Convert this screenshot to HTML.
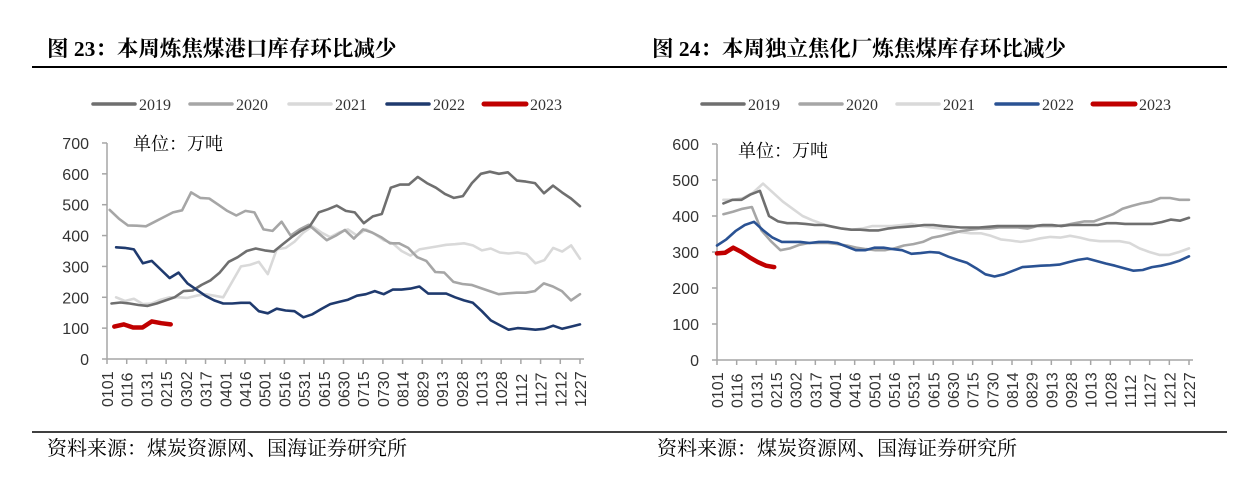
<!DOCTYPE html>
<html><head><meta charset="utf-8">
<style>
body{margin:0;background:#fff;width:1250px;height:488px;overflow:hidden;}
svg{display:block}
</style></head>
<body>
<svg id="s" width="1250" height="488" xmlns="http://www.w3.org/2000/svg" font-family="Liberation Sans, Arial, sans-serif">
<g font-family="Liberation Serif, Noto Serif CJK SC, serif" font-weight="bold" font-size="21.5" fill="#000">
<text x="47" y="56">图 23：本周炼焦煤港口库存环比减少</text>
<text x="652" y="56">图 24：本周独立焦化厂炼焦煤库存环比减少</text>
</g>
<line x1="32" y1="67" x2="625" y2="67" stroke="#000" stroke-width="2"/>
<line x1="625" y1="67" x2="1227" y2="67" stroke="#000" stroke-width="2"/>
<line x1="32" y1="432" x2="625" y2="432" stroke="#000" stroke-width="1.5"/>
<line x1="625" y1="432" x2="1227" y2="432" stroke="#000" stroke-width="1.5"/>
<g font-family="Liberation Serif, Noto Serif CJK SC, serif" font-size="20" fill="#000">
<text x="47" y="455">资料来源：煤炭资源网、国海证券研究所</text>
<text x="657" y="455">资料来源：煤炭资源网、国海证券研究所</text>
<text x="133" y="150" font-size="18">单位：万吨</text>
<text x="738" y="157" font-size="18">单位：万吨</text>
</g>
<g id="c1"></g><g id="c2"></g>
</svg>
<script>
var NS="http://www.w3.org/2000/svg";
function el(p,n,a,t){var e=document.createElementNS(NS,n);for(var k in a)e.setAttribute(k,a[k]);if(t!=null)e.textContent=t;p.appendChild(e);return e;}
var labels=["0101","0116","0131","0215","0302","0317","0401","0416","0501","0516","0531","0615","0630","0715","0730","0814","0829","0913","0928","1013","1028","1112","1127","1212","1227"];
function chart(g,o){
 var X=function(w){return o.x0+(o.x1-o.x0)*w/52;};
 var Y=function(v){return o.y0-v*o.py;};
 var names=["2019","2020","2021","2022","2023"];
 for(var i=0;i<5;i++){var L=o.leg[i];
  el(g,"line",{x1:L,y1:104,x2:L+42,y2:104,stroke:o.cols[i],"stroke-width":i==4?5:3.5,"stroke-linecap":"round"});
  el(g,"text",{x:L+46,y:110,"font-family":"Liberation Serif, serif","font-size":"16",fill:"#333"},names[i]);}
 el(g,"line",{x1:o.x0,y1:Y(o.max),x2:o.x0,y2:o.y0,stroke:"#a6a6a6","stroke-width":1.5});
 el(g,"line",{x1:o.x0,y1:o.y0,x2:o.x1+4,y2:o.y0,stroke:"#a6a6a6","stroke-width":1.5});
 for(var v=0;v<=o.max;v+=100){
  el(g,"line",{x1:o.x0-5,y1:Y(v),x2:o.x0,y2:Y(v),stroke:"#a6a6a6","stroke-width":1.5});
  el(g,"text",{x:o.x0-18,y:Y(v)+6,"text-anchor":"end","font-size":"16",fill:"#333"},String(v));}
 for(var j=0;j<25;j++){var x=o.x0+(o.x1-o.x0)*j/24;
  el(g,"line",{x1:x,y1:o.y0,x2:x,y2:o.y0+5,stroke:"#a6a6a6","stroke-width":1.5});
  el(g,"text",{transform:"translate("+(x+6)+","+(o.y0+48)+") rotate(-90)","font-size":"16",fill:"#333"},labels[j]);}
 for(var i=0;i<o.series.length;i++){var s=o.series[i],d=s.d,n=d.length,pts=[];
  var end=s.end==null?52:s.end;
  for(var k=0;k<n;k++){pts.push(X(s.st+k*(end-s.st)/(n-1)).toFixed(1)+","+Y(d[k]).toFixed(1));}
  el(g,"polyline",{points:pts.join(" "),fill:"none",stroke:o.cols[s.c],"stroke-width":s.c==4?4.5:2.6,"stroke-linejoin":"round","stroke-linecap":"round"});}
}
var L19=[180,183,180,175,172,180,190,200,220,222,240,255,280,315,330,350,358,352,348,372,395,415,430,475,485,497,480,475,440,462,470,555,565,565,590,570,555,535,522,528,570,600,607,600,605,578,575,570,537,562,540,520,495];
var L20=[483,455,433,432,430,445,460,475,482,540,522,520,500,480,465,480,475,420,415,445,400,420,435,410,385,400,418,390,420,410,395,375,375,360,330,318,282,280,250,243,240,230,220,210,213,215,215,220,245,235,220,190,210];
var L21=[200,188,195,178,180,192,200,200,198,205,210,205,200,250,300,305,315,275,355,360,380,410,430,410,395,410,420,400,420,405,385,375,350,335,355,360,365,370,372,375,368,352,358,345,342,345,340,310,320,360,348,368,325];
var L22=[362,360,355,310,318,290,262,280,245,225,205,190,180,180,182,182,155,148,163,157,155,135,145,162,178,185,192,205,210,220,210,225,225,228,235,212,212,212,200,190,182,155,125,110,95,100,98,95,98,108,98,105,112];
var L23=[105,112,102,102,122,116,112];
chart(document.getElementById("c1"),{x0:107,x1:580,y0:359,py:0.3086,max:700,
 leg:[93,190,289,387,484],cols:["#6f6f6f","#a6a6a6","#d9d9d9","#1f3a6e","#c00000"],
 series:[{c:2,st:1,d:L21},{c:1,st:0.3,d:L20},{c:0,st:0.5,d:L19},{c:3,st:1,d:L22},{c:4,st:0.8,end:7,d:L23}]});
var R19=[435,445,445,460,470,400,385,380,380,378,375,375,370,365,362,362,360,360,365,368,370,372,375,375,372,370,368,368,368,370,372,372,372,372,372,375,375,372,375,375,375,375,380,380,378,378,378,378,383,390,387,395];
var R20=[405,412,420,425,360,330,305,310,320,325,325,325,322,318,312,308,305,305,310,318,322,328,340,345,352,358,362,365,365,368,368,368,365,372,372,372,375,380,385,385,395,405,420,428,435,440,450,450,445,445];
var R21=[445,445,450,465,490,465,440,420,400,388,378,370,365,362,365,372,372,372,375,378,372,368,365,362,355,352,352,345,335,332,328,332,338,342,340,345,340,333,330,330,330,325,310,300,292,292,300,310];
var R22=[318,335,358,375,384,360,340,328,328,328,325,328,328,325,315,305,305,312,312,308,305,295,297,300,298,287,278,270,255,238,232,238,248,258,260,262,263,265,272,278,282,275,268,262,255,248,250,258,262,268,276,288];
var R23=[296,298,312,300,285,272,262,258];
chart(document.getElementById("c2"),{x0:717,x1:1189,y0:360,py:0.36,max:600,
 leg:[702,800,897,996,1093],cols:["#6f6f6f","#a6a6a6","#d9d9d9","#2a5293","#c00000"],
 series:[{c:2,st:0.7,d:R21},{c:1,st:0.7,d:R20},{c:0,st:0.7,d:R19},{c:3,st:0,d:R22},{c:4,st:0,end:6.3,d:R23}]});
</script>
</body></html>
